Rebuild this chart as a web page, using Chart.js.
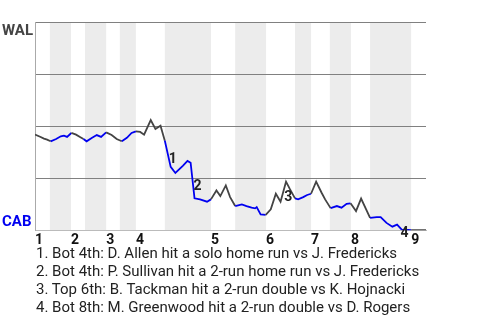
<!DOCTYPE html>
<html>
<head>
<meta charset="utf-8">
<script src="https://cdn.jsdelivr.net/npm/chart.js@4"></script>
<style>
body{margin:0;background:#fff;font-family:Roboto,sans-serif}
#wrap{position:relative;width:480px;height:320px}
#notes{position:absolute;left:36px;top:244px;font-size:15px;line-height:18px;color:#222;white-space:nowrap}
</style>
</head>
<body>
<div id="wrap">
<canvas id="wpChart" width="480" height="320"></canvas>
<div id="notes"></div>
</div>
<script>

/* game progress (0 = first pitch, 100 = final out) */
const progress = [0,1.3,2.3,3.1,4.0,5.4,6.6,7.4,8.2,9.3,10.5,11.5,12.4,13.2,14.5,15.8,16.9,18.2,19.6,20.9,
  22.2,23.5,24.7,25.8,26.9,27.9,29.6,30.8,32.1,33.2,34.7,35.9,37.8,39.0,39.8,40.8,42.2,44.0,45.0,46.4,
  47.4,48.8,49.9,51.2,52.9,54.1,55.4,56.3,56.7,57.7,59.0,60.3,61.6,62.8,64.2,65.2,66.5,67.3,68.6,69.6,
  70.6,71.9,73.3,74.2,75.6,77.2,78.4,79.7,80.7,82.1,83.4,85.7,87.4,88.4,89.9,91.4,92.6,93.8,95.5,96.2,100];

/* WAL win probability (%) */
const walWinPct = [45.9,44.9,44.0,43.5,42.7,43.8,45.1,45.4,44.8,46.7,45.9,44.8,43.8,42.7,44.3,45.7,44.8,47.0,45.7,43.8,
  42.7,44.4,46.7,47.5,47.2,45.9,52.9,48.6,50.2,43.0,30.4,27.5,30.9,33.3,32.4,15.3,14.8,13.7,14.8,19.1,
  16.4,21.5,15.9,11.6,12.4,11.6,10.8,10.5,11.1,7.6,7.4,10.0,17.5,13.7,23.3,19.7,15.3,14.8,15.9,16.9,
  17.5,23.3,18.0,14.8,10.6,11.6,10.8,12.7,12.9,9.2,15.2,5.9,6.3,6.3,3.5,1.7,2.7,0.3,0.1,0,0];

const inningStarts = [0,9.2,18.2,25.8,45.0,59.1,70.6,80.8,96.2];
const bottomStarts = [3.8,12.8,21.7,33.2,51.2,66.5,75.4,85.7];
const inningLabels = ['1','2','3','4','5','6','7','8','9'];

const eventPoints = [30,35,54,77];
const eventMarks = ['1','2','3','4'];
const eventNotes = [
  '1. Bot 4th: D. Allen hit a solo home run vs J. Fredericks',
  '2. Bot 4th: P. Sullivan hit a 2-run home run vs J. Fredericks',
  '3. Top 6th: B. Tackman hit a 2-run double vs K. Hojnacki',
  '4. Bot 8th: M. Greenwood hit a 2-run double vs D. Rogers'
];

const BLUE = '#0000f0';
const GRAY = '#444444';

/* is a given progress value inside a bottom half-inning (CAB batting) */
function isBottom(x){
    for(let i=0;i<bottomStarts.length;i++){
        const end = inningStarts[i+1];
        if(x>=bottomStarts[i] && x<end) return true;
    }
    return false;
}

const bandsPlugin = {
    id:'bands',
    beforeDraw(chart){
        const {ctx, chartArea:a, scales:{x}} = chart;
        ctx.save();
        ctx.fillStyle = '#ececec';
        bottomStarts.forEach((b,i)=>{
            const x0 = x.getPixelForValue(b);
            const x1 = x.getPixelForValue(inningStarts[i+1]);
            ctx.fillRect(x0, a.top, x1-x0, a.bottom-a.top);
        });
        ctx.restore();
    }
};

const marksPlugin = {
    id:'marks',
    afterDraw(chart){
        const {ctx, chartArea:a} = chart;
        const pts = chart.getDatasetMeta(0).data;
        ctx.save();
        ctx.font = 'bold 14px Roboto';
        ctx.textAlign = 'center';
        ctx.textBaseline = 'middle';
        ctx.fillStyle = '#222';
        eventPoints.forEach((idx,i)=>{
            const p0 = pts[idx-1], p1 = pts[idx];
            ctx.fillText(eventMarks[i], (p0.x+p1.x)/2+5, (p0.y+p1.y)/2+6);
        });
        // team names
        ctx.font = 'bold 15px Roboto';
        ctx.textAlign = 'left';
        ctx.textBaseline = 'alphabetic';
        ctx.fillStyle = GRAY;
        ctx.fillText('WAL', 2, a.top+12.5);
        ctx.fillStyle = BLUE;
        ctx.fillText('CAB', 2, a.bottom-4);
        ctx.restore();
    }
};

new Chart(document.getElementById('wpChart'),{
    type:'line',
    data:{
        datasets:[{
            data: progress.map((x,i)=>({x:x, y:walWinPct[i]})),
            borderColor: GRAY,
            borderWidth: 1.8,
            pointRadius: 0,
            tension: 0,
            fill: false,
            segment:{
                borderColor: c => isBottom((c.p0.parsed.x + c.p1.parsed.x)/2) ? BLUE : GRAY
            }
        }]
    },
    options:{
        responsive:false,
        animation:false,
        layout:{padding:{left:35, right:54, top:22, bottom:69}},
        plugins:{
            legend:{display:false},
            tooltip:{enabled:false}
        },
        scales:{
            x:{
                type:'linear',
                min:0,
                max:100,
                grid:{display:false, drawTicks:false},
                border:{color:'#bbbbbb'},
                afterBuildTicks: s => { s.ticks = inningStarts.map(v=>({value:v})); },
                ticks:{
                    autoSkip:false,
                    maxRotation:0,
                    align:'start',
                    padding:2,
                    color:'#111',
                    font:{family:'Roboto', size:14, weight:'bold'},
                    callback:(v,i)=>inningLabels[i]
                }
            },
            y:{
                min:0,
                max:100,
                ticks:{display:false, stepSize:25},
                grid:{
                    drawTicks:false,
                    color: c => c.tick && c.tick.value===0 ? 'rgba(0,0,0,0)' : '#808080'
                },
                border:{color:'#aaaaaa'}
            }
        }
    },
    plugins:[bandsPlugin, marksPlugin]
});

document.getElementById('notes').innerHTML = eventNotes.map(t=>'<div>'+t+'</div>').join('');

</script>
</body>
</html>
